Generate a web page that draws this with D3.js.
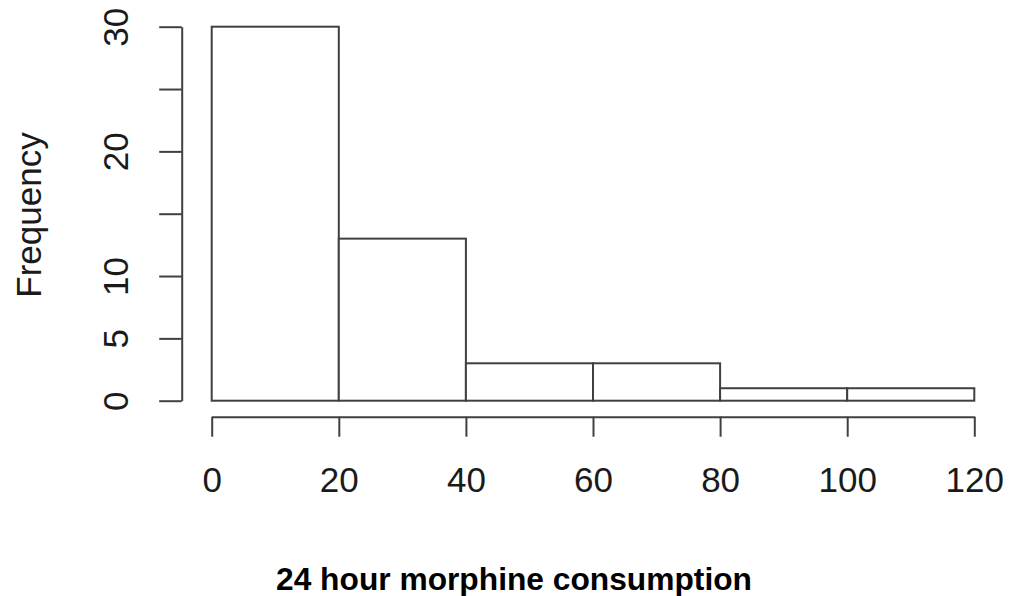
<!DOCTYPE html>
<html>
<head>
<meta charset="utf-8">
<script src="https://cdn.jsdelivr.net/npm/d3@7"></script>
<style>
  html, body { margin: 0; padding: 0; background: #fff; }
  svg { display: block; }
  text { font-family: "Liberation Sans", Arial, Helvetica, sans-serif; }
</style>
</head>
<body>
<svg id="chart" width="1011" height="596"></svg>
<script>
// Histogram bins: break points and the count in each bin
const binBreaks = [0, 20, 40, 60, 80, 100, 120];
const binCounts = [30, 13, 3, 3, 1, 1];

// Axis ticks and labels (R drops the 15 and 25 labels where they would collide)
const xTicks = [0, 20, 40, 60, 80, 100, 120];
const yTicks = [0, 5, 10, 15, 20, 25, 30];
const yTickLabels = ["0", "5", "10", "", "20", "", "30"];

const xTitle = "24 hour morphine consumption";
const yTitle = "Frequency";

const svg = d3.select("#chart");
const ink = "#404040";
const lineWidth = 2;

const x = d3.scaleLinear().domain([0, 120]).range([211.7, 974.3]);
const y = d3.scaleLinear().domain([0, 30]).range([400.7, 26.7]);

// Bars
svg.append("g")
  .selectAll("rect")
  .data(binCounts)
  .join("rect")
  .attr("x", (d, i) => x(binBreaks[i]))
  .attr("width", (d, i) => x(binBreaks[i + 1]) - x(binBreaks[i]))
  .attr("y", d => y(d))
  .attr("height", d => y(0) - y(d))
  .attr("fill", "#fff")
  .attr("stroke", ink)
  .attr("stroke-width", lineWidth);

// X axis, offset below the plot area
const xAxis = svg.append("g")
  .attr("transform", "translate(0,416.7)")
  .call(d3.axisBottom(x).tickValues(xTicks).tickSize(20).tickSizeOuter(0).tickFormat(d3.format("d")));
xAxis.select(".domain").attr("stroke", ink).attr("stroke-width", lineWidth);
xAxis.selectAll(".tick line").attr("stroke", ink).attr("stroke-width", lineWidth);
xAxis.selectAll(".tick text")
  .attr("y", 75.5).attr("dy", null)
  .attr("fill", "#1a1a1a")
  .style("font-size", "35px");

// Y axis, offset left of the plot area, labels rotated as in base R
const yAxis = svg.append("g")
  .attr("transform", "translate(181.7,0)")
  .call(d3.axisLeft(y).tickValues(yTicks).tickSize(22.5).tickSizeOuter(0)
    .tickFormat((d, i) => yTickLabels[i]));
yAxis.select(".domain").attr("stroke", ink).attr("stroke-width", lineWidth);
yAxis.selectAll(".tick line").attr("stroke", ink).attr("stroke-width", lineWidth);
yAxis.selectAll(".tick text")
  .attr("x", 0).attr("dy", null)
  .attr("y", -53.7)
  .attr("transform", "rotate(-90)")
  .attr("text-anchor", "middle")
  .attr("fill", "#1a1a1a")
  .style("font-size", "35px");

// Axis titles
svg.append("text")
  .attr("transform", "translate(41,215) rotate(-90)")
  .attr("text-anchor", "middle")
  .attr("fill", "#1a1a1a")
  .style("font-size", "35px")
  .text(yTitle);

svg.append("text")
  .attr("x", 276)
  .attr("y", 590)
  .attr("textLength", 476)
  .attr("lengthAdjust", "spacingAndGlyphs")
  .attr("fill", "#000")
  .style("font-size", "31px")
  .style("font-weight", "bold")
  .text(xTitle);
</script>
</body>
</html>
